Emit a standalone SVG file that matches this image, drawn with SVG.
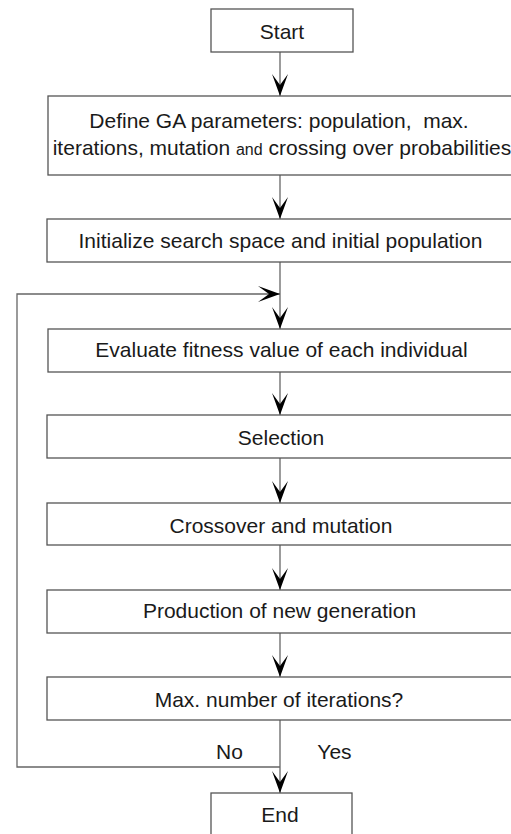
<svg xmlns="http://www.w3.org/2000/svg" width="511" height="834" viewBox="0 0 511 834">
<style>
.box{fill:#fff;stroke:#555;stroke-width:1.3}
.t{font-family:"Liberation Sans",Arial,sans-serif;font-size:21px;fill:#1a1a1a;text-anchor:middle}
.e{fill:none;stroke:#666;stroke-width:1.3}
</style>
<defs>
<marker id="ah" markerUnits="userSpaceOnUse" markerWidth="26" markerHeight="20" viewBox="-24 -10 26 20" refX="0" refY="0" orient="auto">
<path d="M0,0 L-22,-8 L-11,0 L-22,8 Z" fill="#000"/>
</marker>
</defs>
<rect width="511" height="834" fill="#fff"/>
<g id="connectors">
<line class="e" x1="280" y1="52" x2="280" y2="96" marker-end="url(#ah)"/>
<line class="e" x1="280" y1="175" x2="280" y2="219" marker-end="url(#ah)"/>
<line class="e" x1="280" y1="262" x2="280" y2="329" marker-end="url(#ah)"/>
<polyline class="e" points="280,767 17,767 17,294 280,294" marker-end="url(#ah)"/>
<line class="e" x1="280" y1="372" x2="280" y2="415" marker-end="url(#ah)"/>
<line class="e" x1="280" y1="458" x2="280" y2="503" marker-end="url(#ah)"/>
<line class="e" x1="280" y1="545" x2="280" y2="590" marker-end="url(#ah)"/>
<line class="e" x1="280" y1="633" x2="280" y2="677" marker-end="url(#ah)"/>
<line class="e" x1="280" y1="720" x2="280" y2="793" marker-end="url(#ah)"/>
<text class="t" x="229.5" y="759">No</text>
<text class="t" x="334.5" y="759">Yes</text>
</g>
<g id="start"><rect class="box" x="211" y="9" width="142" height="43"/><text class="t" x="282" y="39">Start</text></g>
<g id="define"><rect class="box" x="48" y="96" width="466" height="79"/>
<text class="t" x="279" y="128" xml:space="preserve">Define GA parameters: population,  max.</text>
<text class="t" x="282" y="155">iterations, mutation <tspan font-size="16">and</tspan> crossing over probabilities</text></g>
<g id="init"><rect class="box" x="47" y="219" width="467" height="43"/><text class="t" x="280.5" y="248">Initialize search space and initial population</text></g>
<g id="evaluate"><rect class="box" x="48" y="329" width="466" height="43"/><text class="t" x="281.5" y="357">Evaluate fitness value of each individual</text></g>
<g id="selection"><rect class="box" x="47" y="415" width="467" height="43"/><text class="t" x="281" y="445">Selection</text></g>
<g id="crossover"><rect class="box" x="47" y="503" width="467" height="42"/><text class="t" x="281" y="533">Crossover and mutation</text></g>
<g id="production"><rect class="box" x="47" y="590" width="467" height="43"/><text class="t" x="279.5" y="618">Production of new generation</text></g>
<g id="maxiter"><rect class="box" x="47" y="677" width="467" height="43"/><text class="t" x="279" y="707">Max. number of iterations?</text></g>
<g id="end"><rect class="box" x="211" y="793" width="141" height="50"/><text class="t" x="280" y="822">End</text></g>
</svg>
